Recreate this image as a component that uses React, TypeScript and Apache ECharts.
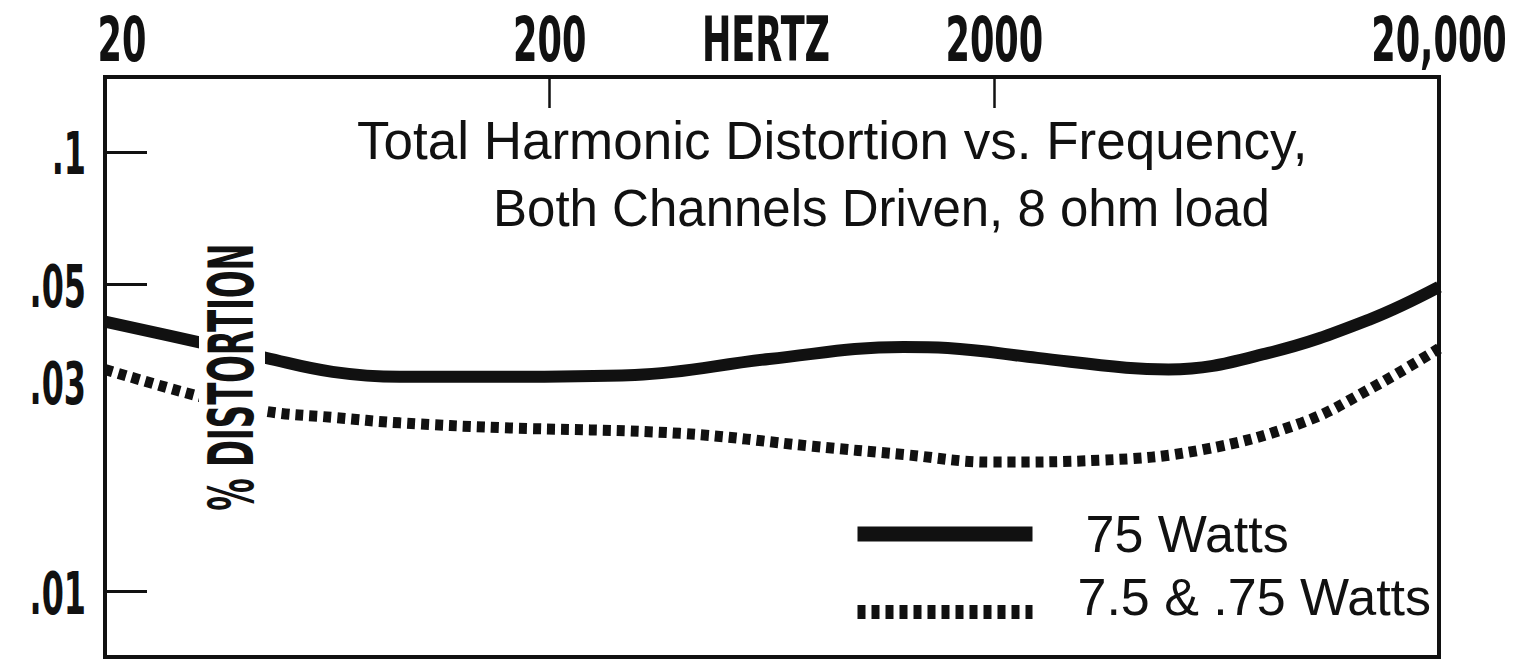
import React, { useEffect, useRef } from "react";
import * as echarts from "echarts";

// ---- data ----
const freqSolid = [20, 33, 46, 65, 92, 155, 311, 623, 1250, 1570, 2500, 3960, 4930, 8280, 13900, 20000];
const thdSolid = [0.0411, 0.0368, 0.034, 0.0316, 0.0308, 0.0308, 0.0311, 0.0338, 0.036, 0.0358, 0.034, 0.0323, 0.032, 0.0349, 0.0415, 0.0493];

const freqDotted = [20, 33, 46, 65, 92, 155, 393, 782, 1250, 1980, 3480, 5850, 9820, 13900, 20000];
const thdDotted = [0.032, 0.0277, 0.0257, 0.0249, 0.0242, 0.0236, 0.0229, 0.0214, 0.0205, 0.0197, 0.0199, 0.021, 0.0242, 0.0288, 0.0357];

const xRange = [20, 20000];
const yRange = [0.0071, 0.148];
const xTickValues = [200, 2000];
const xLabelValues = [20, 200, 2000, 20000];
const yTickValues = [0.1, 0.05, 0.01];
const yLabelValues = [0.1, 0.05, 0.03, 0.01];

const seriesNames = ["75 Watts", "7.5 & .75 Watts"];
const titleLine1 = "Total Harmonic Distortion vs. Frequency,";
const titleLine2 = "Both Channels Driven, 8 ohm load";
const xAxisName = "HERTZ";
const yAxisName = "% DISTORTION";

const INK = "#111111";
const FONT_COND = "'DejaVu Sans Condensed', 'DejaVu Sans', sans-serif";
const FONT_TEXT = "'Liberation Sans', Arial, sans-serif";

const fmtX = (v: number) => {
  const r = Math.round(v);
  return r >= 10000 ? r.toLocaleString("en-US") : String(r);
};
const fmtY = (v: number) => String(Number(v.toPrecision(3))).replace(/^0\./, ".");

export default function App() {
  const ref = useRef<HTMLDivElement>(null);
  useEffect(() => {
    document.body.style.margin = "0";
    const chart = echarts.init(ref.current as HTMLDivElement, null, { renderer: "svg" });
    const solid = freqSolid.map((f, i) => [f, thdSolid[i]]);
    const dotted = freqDotted.map((f, i) => [f, thdDotted[i]]);
    chart.setOption({
      animation: false,
      backgroundColor: "#ffffff",
      title: [
        {
          text: titleLine1,
          left: 352,
          top: 109,
          textStyle: { fontFamily: FONT_TEXT, fontSize: 53, fontWeight: "normal", color: INK },
        },
        {
          text: titleLine2,
          left: 488,
          top: 178,
          textStyle: { fontFamily: FONT_TEXT, fontSize: 51, fontWeight: "normal", color: INK },
        },
      ],
      legend: {
        orient: "vertical",
        left: 845,
        top: 503,
        itemWidth: 175,
        itemHeight: 16,
        itemGap: 11,
        textStyle: { fontFamily: FONT_TEXT, fontSize: 52, color: INK },
        formatter: (name: string) => (name === seriesNames[1] ? "{low|" + name + "}" : "{up|" + name + "}"),
        textStyleRich: undefined,
        data: [
          { name: seriesNames[0], lineStyle: { width: 15 }, itemStyle: { opacity: 0 } },
          { name: seriesNames[1], lineStyle: { width: 14 }, itemStyle: { opacity: 0 } },
        ],
      },
      grid: {
        left: 105,
        right: 88,
        top: 77,
        bottom: 4,
        show: true,
        borderColor: INK,
        borderWidth: 4,
        backgroundColor: "transparent",
        outerBoundsMode: "none",
      },
      xAxis: {
        type: "log",
        logBase: 10,
        min: xRange[0],
        max: xRange[1],
        position: "top",
        axisLine: { show: false },
        splitLine: { show: false },
        minorTick: { show: false },
        axisTick: {
          show: true,
          inside: true,
          length: 31,
          customValues: xTickValues,
          lineStyle: { color: INK, width: 2.5 },
        },
        axisLabel: { show: false },
      },
      yAxis: {
        type: "log",
        logBase: 10,
        min: yRange[0],
        max: yRange[1],
        axisLine: { show: false },
        splitLine: { show: false },
        minorTick: { show: false },
        axisTick: {
          show: true,
          inside: true,
          length: 42,
          customValues: yTickValues,
          lineStyle: { color: INK, width: 3 },
        },
        axisLabel: { show: false },
      },
      graphic: [
        {
          type: "text",
          z: 100,
          x: 766,
          y: 39,
          scaleX: 0.63,
          style: {
            text: xAxisName,
            fontFamily: FONT_COND,
            fontWeight: "bold",
            fontSize: 62,
            fill: INK,
            align: "center",
            verticalAlign: "middle",
          },
        },
        {
          type: "text",
          z: 100,
          x: 232,
          y: 377,
          rotation: Math.PI / 2,
          scaleX: 0.58,
          style: {
            text: yAxisName,
            fontFamily: FONT_COND,
            fontWeight: "bold",
            fontSize: 62,
            lineHeight: 62,
            fill: INK,
            align: "center",
            verticalAlign: "middle",
            backgroundColor: "#ffffff",
            padding: [2, 6, 2, 6],
          },
        },
      ],
      series: [
        {
          name: seriesNames[0],
          type: "line",
          data: solid,
          smooth: 0.4,
          symbol: "none",
          z: 2,
          lineStyle: { color: INK, width: 12, cap: "butt" },
          itemStyle: { color: INK },
        },
        {
          name: seriesNames[1],
          type: "line",
          data: dotted,
          smooth: 0.4,
          symbol: "none",
          z: 2,
          lineStyle: { color: INK, width: 11, type: [8, 6], cap: "butt" },
          itemStyle: { color: INK },
        },
        {
          name: "x tick labels",
          type: "custom",
          silent: true,
          clip: false,
          z: 5,
          data: xLabelValues.map((v) => [v, yRange[1]]),
          renderItem: (params: any, api: any) => {
            const v = api.value(0);
            const p = api.coord([v, api.value(1)]);
            const dx = params.dataIndex === 0 ? 17 : 0;
            return {
              type: "text",
              x: p[0] + dx,
              y: p[1] - 38,
              scaleX: 0.63,
              style: {
                text: fmtX(v),
                fontFamily: FONT_COND,
                fontWeight: "bold",
                fontSize: 62,
                fill: INK,
                align: "center",
                verticalAlign: "middle",
              },
            };
          },
        },
        {
          name: "y tick labels",
          type: "custom",
          silent: true,
          clip: false,
          z: 5,
          data: yLabelValues.map((v) => [xRange[0], v]),
          renderItem: (params: any, api: any) => {
            const v = api.value(1);
            const p = api.coord([api.value(0), v]);
            return {
              type: "text",
              x: p[0] - 19,
              y: p[1] + 2,
              scaleX: 0.6,
              style: {
                text: fmtY(v),
                fontFamily: FONT_COND,
                fontWeight: "bold",
                fontSize: 59,
                fill: INK,
                align: "right",
                verticalAlign: "middle",
              },
            };
          },
        },
      ],
    });
    // rich styles for the legend texts (per-item offsets as in the reference)
    chart.setOption({
      legend: {
        textStyle: {
          rich: {
            up: { fontFamily: FONT_TEXT, fontSize: 52, color: INK, padding: [0, 0, 0, 48] },
            low: { fontFamily: FONT_TEXT, fontSize: 52, color: INK, padding: [0, 0, 30, 40] },
          },
        },
      },
    });
    return () => chart.dispose();
  }, []);
  return <div ref={ref} style={{ width: 1527, height: 661 }} />;
}
